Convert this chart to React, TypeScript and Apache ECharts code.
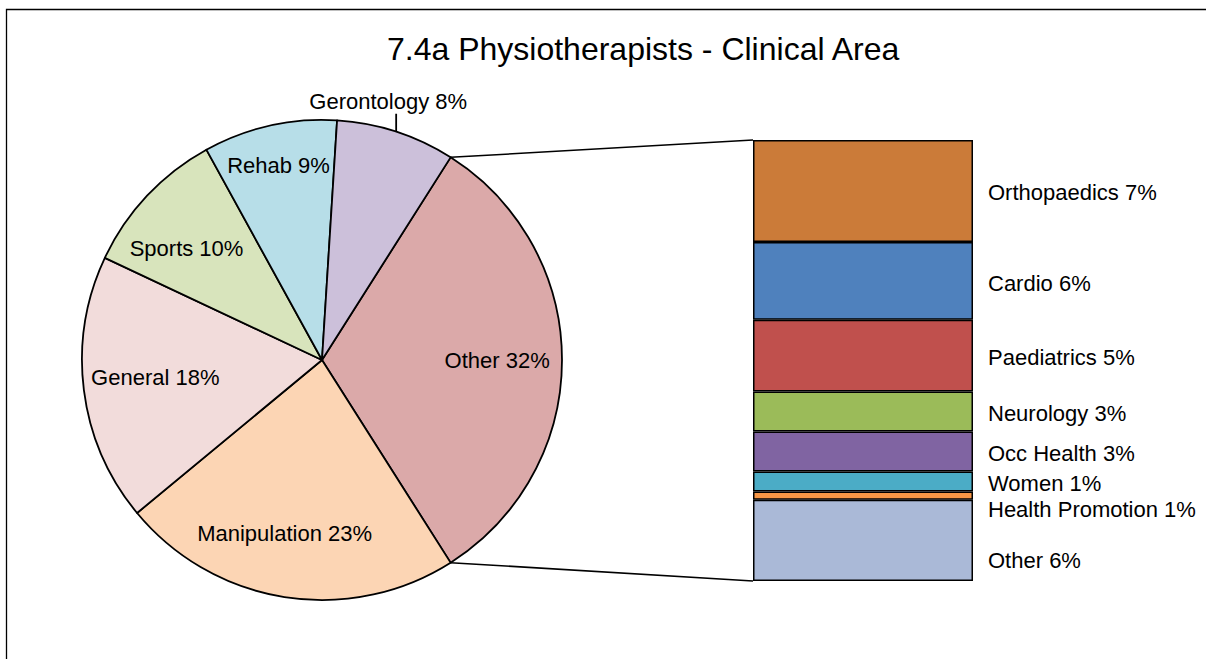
import React, { useEffect, useRef } from 'react';
import * as echarts from 'echarts';

// ---------- data ----------
const TITLE = '7.4a Physiotherapists - Clinical Area';
const otherName = 'Other';
const pieNames = ['Manipulation', 'General', 'Sports', 'Rehab', 'Gerontology'];
const pieValues = [23, 18, 10, 9, 8];
const subNames = ['Orthopaedics', 'Cardio', 'Paediatrics', 'Neurology', 'Occ Health', 'Women', 'Health Promotion', 'Other'];
const subValues = [7.4, 5.65, 5.2, 2.9, 2.9, 1.45, 0.6, 5.9];

// ---------- style ----------
const FONT = '"Liberation Sans", Arial, Helvetica, sans-serif';
const pieColors: Record<string, string> = {
  Other: '#DBA9A9',
  Manipulation: '#FCD5B4',
  General: '#F2DCDB',
  Sports: '#D8E4BC',
  Rehab: '#B7DEE8',
  Gerontology: '#CCC0DA',
};
const subColors = ['#CB7B39', '#4F81BD', '#C0504D', '#9BBB59', '#8064A2', '#4BACC6', '#F79646', '#AAB9D7'];
const PIE_CX = 322;
const PIE_CY = 360;
const PIE_R = 240;
const GRID = { left: 753, top: 140, width: 220, height: 441 };
const LABEL_R: Record<string, number> = { Other: 0.73, Manipulation: 0.73, General: 0.7, Sports: 0.74, Rehab: 0.83 };
const LABEL_SHIFT: Record<string, number[]> = { Sports: [-6, 10], General: [0, -4], Manipulation: [-10, 0] };
const SUB_LABEL_DY = [2, 3, 2, 2, 2, 2, 14, 20];
const LABEL_SIZE = 22;

export default function App() {
  const ref = useRef<HTMLDivElement>(null);

  useEffect(() => {
    document.body.style.margin = '0';
    if (!ref.current) return;
    const chart = echarts.init(ref.current, undefined, { renderer: 'svg' });

    const otherTotal = subValues.reduce((a, b) => a + b, 0);
    const pieData = [{ name: otherName, value: otherTotal }].concat(
      pieNames.map((n, i) => ({ name: n, value: pieValues[i] }))
    );
    const total = pieData.reduce((a, d) => a + d.value, 0);
    const startAngle = (otherTotal / total) * 180;
    const midAngles: number[] = [];
    let cum = 0;
    pieData.forEach((d) => {
      const a0 = startAngle - (cum / total) * 360;
      midAngles.push(a0 - (d.value / total) * 180);
      cum += d.value;
    });
    const rad = (deg: number) => (deg * Math.PI) / 180;

    const textStyle = { fontFamily: FONT, fontSize: LABEL_SIZE, color: '#000' };

    chart.setOption({
      animation: false,
      title: {
        text: TITLE,
        left: 387,
        top: 33,
        padding: 0,
        textStyle: { fontFamily: FONT, fontSize: 32, fontWeight: 'normal', color: '#000' },
      },
      grid: { left: GRID.left, top: GRID.top, width: GRID.width, height: GRID.height },
      xAxis: { type: 'category', data: ['sub'], show: false },
      yAxis: { type: 'value', min: 0, max: otherTotal, inverse: true, show: false },
      series: [
        {
          type: 'pie',
          center: [PIE_CX, PIE_CY],
          radius: PIE_R,
          startAngle,
          clockwise: true,
          avoidLabelOverlap: false,
          silent: true,
          itemStyle: { borderColor: '#000', borderWidth: 1.8 },
          label: {
            show: true,
            ...textStyle,
            formatter: (p: any) => `${p.name} ${Math.round(p.value)}%`,
          },
          data: pieData.map((d) => ({
            ...d,
            itemStyle: { color: pieColors[d.name] },
            label: { position: d.name === 'Gerontology' ? 'outside' : 'inside' },
            labelLine: {
              show: d.name === 'Gerontology',
              lineStyle: { color: '#000', width: 1.8 },
            },
          })),
          labelLayout: (params: any) => {
            const i = params.dataIndex;
            const name = pieData[i].name;
            const m = rad(midAngles[i]);
            if (name === 'Gerontology') {
              const ex = PIE_CX + PIE_R * Math.cos(m);
              const ey = PIE_CY - PIE_R * Math.sin(m);
              return {
                x: ex - 8,
                y: ey - 30,
                align: 'center',
                verticalAlign: 'middle',
                labelLinePoints: [
                  [ex, ey],
                  [ex, ey - 18],
                  [ex, ey - 18],
                ],
              };
            }
            const f = LABEL_R[name] ?? 0.73;
            const s = LABEL_SHIFT[name] || [0, 0];
            return {
              x: PIE_CX + f * PIE_R * Math.cos(m) + s[0],
              y: PIE_CY - f * PIE_R * Math.sin(m) + s[1],
              align: 'center',
              verticalAlign: 'middle',
            };
          },
        },
        ...subNames.map((n, i) => ({
          type: 'bar',
          name: n,
          stack: 'sub',
          silent: true,
          barWidth: '100%',
          data: [subValues[i]],
          itemStyle: { color: subColors[i], borderColor: '#000', borderWidth: 1.5 },
          label: {
            show: true,
            position: 'right',
            distance: 15,
            offset: [0, SUB_LABEL_DY[i]],
            ...textStyle,
            formatter: (p: any) => `${n} ${Math.round(p.value)}%`,
          },
        })),
      ],
    });

    const yTop = chart.convertToPixel({ yAxisIndex: 0 }, 0) as number;
    const yBot = chart.convertToPixel({ yAxisIndex: 0 }, otherTotal) as number;
    const xLeft = GRID.left;
    const ex = PIE_CX + PIE_R * Math.cos(rad(startAngle));
    const eyTop = PIE_CY - PIE_R * Math.sin(rad(startAngle));
    const eyBot = PIE_CY + PIE_R * Math.sin(rad(startAngle));

    chart.setOption({
      graphic: [
        {
          type: 'rect',
          silent: true,
          shape: { x: 6.5, y: 9.5, width: 1400, height: 900 },
          style: { fill: 'none', stroke: '#000', lineWidth: 1.3 },
        },
        {
          type: 'line',
          silent: true,
          shape: { x1: ex, y1: eyTop, x2: xLeft, y2: yTop },
          style: { stroke: '#000', lineWidth: 1.5 },
        },
        {
          type: 'line',
          silent: true,
          shape: { x1: ex, y1: eyBot, x2: xLeft, y2: yBot },
          style: { stroke: '#000', lineWidth: 1.5 },
        },
      ],
    });

    return () => chart.dispose();
  }, []);

  return <div ref={ref} style={{ width: 1206, height: 659 }} />;
}
